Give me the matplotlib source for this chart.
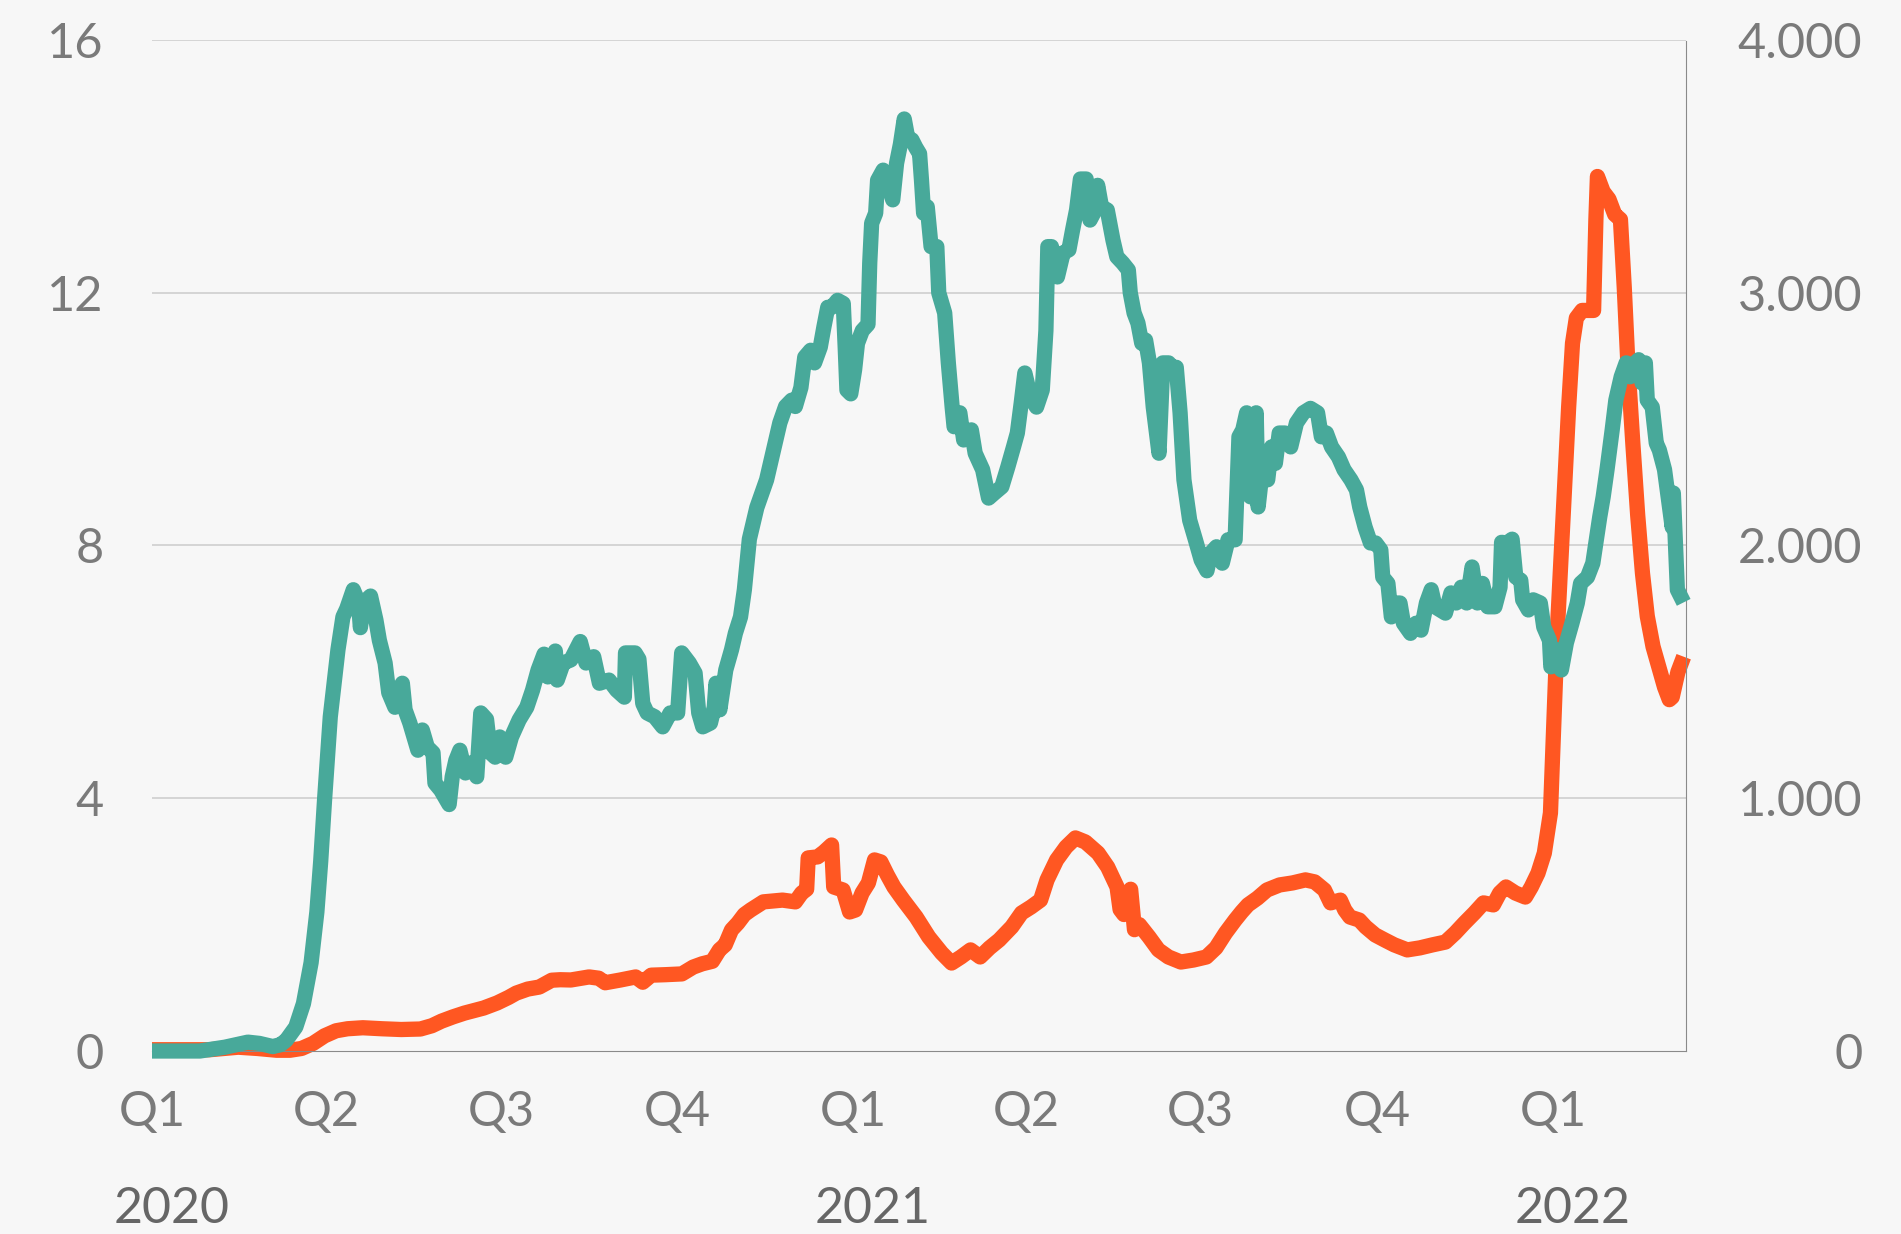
import matplotlib.pyplot as plt
from matplotlib.ticker import FuncFormatter

# días desde el 1 de enero de 2020 y valores
dias_verde = [0, 25, 38, 50, 56, 63, 67, 70, 75, 79, 83, 86, 88, 90, 93, 97, 99.6, 101.6, 105,
              107.7, 108.7, 110.5, 114, 116.8, 118.6, 121.6, 123.5, 126.7, 128.7, 130.6, 132,
              134.5, 138.7, 141, 143.6, 146.6, 147.6, 150.6, 155, 156.6, 158.5, 160.6, 163.5,
              166.5, 169.4, 171.5, 174.5, 176.5, 179, 181.4, 184.5, 187.5, 191.5, 195.5, 198.5,
              201.4, 204.5, 206.5, 210.4, 211.4, 214.5, 218.5, 223.4, 226.4, 230.4, 233.4,
              238.4, 242.4, 246.4, 247, 252, 254, 256, 258.3, 262.2, 266.4, 270.3, 274.2, 276.3,
              280.3, 283.3, 285.2, 287.3, 291.3, 293.3, 294.2, 296.2, 299.3, 302.3, 304.3, 307,
              309, 311.6, 315.5, 320.6, 324.6, 327.5, 330.5, 333.7, 335.6, 338.5, 340.5, 343.6,
              345.6, 348.6, 350.5, 352.5, 354.6, 357.6, 360.6, 361.6, 362.5, 364.5, 366.5, 368,
              370.5, 373.5, 374.4, 375.4, 377.5, 378.5, 381.4, 383.4, 386.4, 388.4, 390.4,
              392.4, 394.4, 396.4, 398.4, 400.4, 401.4, 402.5, 404.4, 406.4, 409.4, 410.4,
              413.5, 415.4, 417.4, 418.4, 421.4, 423.4, 427.4, 429.4, 433.3, 436.4, 439.4,
              443.3, 446.4, 449.4, 451.4, 453.4, 455.3, 458.3, 461.4, 464.4, 466.3, 467.3,
              469.2, 472.3, 475.3, 478.3, 480.2, 482.3, 484.3, 487.3, 489.3, 491.2, 493.3,
              495.3, 498.3, 501.3, 503.3, 506.4, 509.3, 510.3, 512.3, 514.3, 516.3, 518.3,
              520.3, 522.3, 525.3, 527.3, 530.3, 532.3, 534.3, 536.3, 538.3, 541.3, 544.3,
              547.3, 550.3, 552.3, 555.3, 558.3, 561.3, 565, 567, 569, 571, 573, 576, 577, 579,
              582, 584, 586, 588, 591, 594, 597, 600.6, 604.3, 608, 610, 612.6, 615.3, 618.9,
              621.8, 625.4, 628.3, 630, 632.8, 635.6, 638.3, 641, 642, 644.7, 646.5, 649.3, 651,
              652.8, 656.5, 659.4, 662, 664.8, 667.3, 669.3, 672, 674.7, 677.6, 680.3, 683,
              685.8, 688.6, 691.4, 694, 696.8, 700.5, 703.2, 704, 706.8, 709.5, 711.4, 714, 715,
              718, 720.5, 724.2, 726, 729, 729.7, 732.5, 735.2, 737.8, 740.7, 743.5, 745.2,
              748.8, 751.6, 753.6, 755.2, 757, 759, 761.7, 763.6, 766.4, 769, 771, 773.7,
              775.5, 777.3, 779, 780, 782.6, 784.7, 786.3, 789, 793, 793.6, 795.7, 799]
verde = [0.0, 0.0, 0.06, 0.14, 0.12, 0.07, 0.10, 0.17, 0.38, 0.75, 1.4, 2.2, 3.0, 3.97, 5.29,
         6.35, 6.87, 7.0, 7.3, 7.1, 6.7, 7.1, 7.2, 6.82, 6.5, 6.14, 5.67, 5.44, 5.71, 5.82,
         5.4, 5.19, 4.76, 5.08, 4.81, 4.72, 4.24, 4.13, 3.9, 4.34, 4.6, 4.76, 4.4, 4.56,
         4.34, 5.35, 5.25, 4.72, 4.65, 4.97, 4.65, 4.97, 5.24, 5.44, 5.71, 6.03, 6.28, 5.92,
         6.33, 5.87, 6.14, 6.19, 6.48, 6.14, 6.24, 5.82, 5.87, 5.71, 5.6, 6.3, 6.3, 6.2, 5.5,
         5.35, 5.29, 5.13, 5.35, 5.35, 6.3, 6.14, 5.98, 5.35, 5.13, 5.19, 5.44, 5.82, 5.4,
         6.03, 6.35, 6.61, 6.87, 7.3, 8.1, 8.6, 9.04, 9.56, 9.94, 10.2, 10.3, 10.2, 10.5,
         10.98, 11.09, 10.89, 11.14, 11.46, 11.77, 11.77, 11.88, 11.83, 11.14, 10.46, 10.4,
         10.78, 11.2, 11.4, 11.5, 12.47, 13.1, 13.26, 13.78, 13.94, 13.78, 13.47, 14.05,
         14.35, 14.75, 14.42, 14.42, 14.3, 14.2, 13.78, 13.26, 13.36, 12.73, 12.73, 12.0,
         11.68, 10.89, 10.19, 9.88, 10.1, 9.67, 9.83, 9.46, 9.2, 8.75, 8.83, 8.93, 9.24,
         9.56, 9.78, 10.25, 10.73, 10.35, 10.19, 10.46, 11.4, 12.73, 12.73, 12.25, 12.63,
         12.68, 12.99, 13.31, 13.8, 13.8, 13.15, 13.26, 13.7, 13.36, 13.31, 12.83, 12.57,
         12.47, 12.36, 12.0, 11.68, 11.52, 11.2, 11.25, 10.89, 10.19, 9.46, 10.89, 10.89,
         10.82, 10.82, 10.1, 9.04, 8.4, 8.09, 7.77, 7.6, 7.88, 7.98, 7.72, 8.09, 8.09, 9.72,
         9.83, 10.1, 8.77, 10.1, 8.61, 9.15, 9.04, 9.56, 9.3, 9.78, 9.78, 9.56, 9.94, 10.1,
         10.17, 10.1, 9.72, 9.78, 9.56, 9.4, 9.2, 9.04, 8.88, 8.61, 8.29, 8.04, 8.04, 7.93,
         7.5, 7.4, 6.87, 7.09, 7.09, 6.77, 6.61, 6.77, 6.66, 7.09, 7.3, 7.03, 6.98, 6.93,
         7.25, 7.09, 7.34, 7.09, 7.66, 7.09, 7.4, 7.03, 7.03, 7.34, 8.05, 8.04, 8.1, 7.5,
         7.45, 7.14, 6.98, 7.14, 7.09, 6.71, 6.5, 6.08, 6.35, 6.03, 6.46, 6.77, 7.09, 7.4,
         7.5, 7.72, 8.13, 8.45, 8.77, 9.2, 9.83, 10.3, 10.67, 10.89, 10.67, 10.89, 10.94,
         10.57, 10.89, 10.3, 10.19, 9.62, 9.51, 9.2, 8.29, 8.83, 7.3, 7.1]

dias_naranja = [0, 30, 45, 55, 65, 72, 78, 84, 90, 96, 102, 110, 120, 130, 140, 146, 151, 157,
                163, 173, 180, 186, 190, 196, 202, 208.5, 213, 218.5, 228, 233, 236.4, 240,
                244.4, 252.3, 256, 260.4, 268, 276.4, 282.3, 287, 292.3, 296, 299, 302.3,
                305.6, 309, 312.3, 318.9, 328.9, 335.6, 338.9, 341.5, 342.3, 347.2, 350.5,
                354.5, 355.6, 360.5, 363.9, 367, 370.4, 373.7, 376.9, 380.2, 383.6, 387, 391.9,
                398.6, 405.2, 411.9, 417.1, 422, 427, 432, 436.9, 441.9, 448.5, 453.6, 458.6,
                463.5, 466.9, 471.9, 476.8, 481.7, 486.9, 493.5, 498.5, 503.4, 505, 507, 510.5,
                512.5, 515, 520.1, 525, 530.2, 536.7, 543.3, 550, 555, 560, 565, 568.4, 571.7,
                576.7, 581.6, 588.2, 595, 601.7, 606.5, 611.6, 614.8, 619.9, 622.2, 624.9,
                629.8, 633.1, 638.1, 643.1, 648, 654.8, 661.4, 668, 674.7, 679.8, 684.6, 689.8,
                694.6, 699.7, 703, 706.3, 711.2, 716.4, 719.5, 723, 726.3, 729.5, 731, 733, 735,
                737, 739, 741, 743, 746, 752, 753.2, 754, 757, 760, 763, 766, 768, 770, 772.5,
                775, 777.5, 780, 783, 786, 789, 791.5, 793, 796, 799]
naranja = [5, 5, 15, 10, 3, 3, 10, 30, 60, 80, 88, 92, 88, 85, 87, 100, 118, 135, 150, 170,
           190, 212, 229, 245, 253, 280, 282, 281, 293, 288, 270, 275, 281, 293, 272, 300, 302,
           305, 332, 345, 355, 400, 420, 479, 506, 540, 558, 590, 597, 590, 625, 640, 764, 768,
           787, 815, 649, 637, 550, 558, 625, 665, 756, 748, 696, 649, 597, 530, 451, 388, 348,
           372, 400, 372, 408, 439, 491, 546, 570, 597, 677, 756, 807, 843, 827, 783, 728, 649,
           560, 540, 640, 480, 500, 451, 400, 372, 352, 360, 372, 408, 467, 518, 550, 578, 605,
           637, 657, 665, 677, 669, 637, 586, 597, 558, 530, 518, 491, 459, 439, 420, 400, 408,
           420, 431, 467, 506, 546, 586, 578, 625, 649, 625, 609, 649, 704, 783, 942, 1250,
           1650, 1950, 2250, 2550, 2800, 2900, 2930, 2930, 3290, 3460, 3400, 3370, 3310, 3290,
           3020, 2700, 2400, 2120, 1890, 1720, 1600, 1520, 1440, 1390, 1400, 1500, 1560]

trimestres = [0, 91, 182, 274, 366, 456, 547, 639, 731]
etiquetas_q = ['Q1', 'Q2', 'Q3', 'Q4', 'Q1', 'Q2', 'Q3', 'Q4', 'Q1']
anios = ['2020', '2021', '2022']
pos_anios = [0, 366, 731]

fondo = '#f7f7f7'
gris = '#7a7a7a'
verde_c = '#48a99a'
naranja_c = '#ff5722'

plt.rcParams['font.family'] = ['Lato', 'DejaVu Sans']

fig = plt.figure(figsize=(19.01, 12.34), dpi=100, facecolor=fondo)
ax = fig.add_axes([0.07996, 0.1483, 0.80694, 0.81929])
ax2 = ax.twinx()
# la serie verde va por encima de la naranja
ax.set_zorder(ax2.get_zorder() + 1)
ax.patch.set_visible(False)
ax2.patch.set_facecolor(fondo)

ax.plot(dias_verde, verde, color=verde_c, lw=11, solid_joinstyle='round',
        solid_capstyle='butt', clip_on=False)
ax2.plot(dias_naranja, naranja, color=naranja_c, lw=11, solid_joinstyle='round',
         solid_capstyle='butt', clip_on=False)

ax.set_xlim(0, 800.2)
ax.set_ylim(0, 16)
ax2.set_ylim(0, 4000)

ax.set_yticks([0, 4, 8, 12, 16])
ax2.set_yticks([0, 1000, 2000, 3000, 4000])
ax2.yaxis.set_major_formatter(FuncFormatter(lambda v, p: f'{int(v):,}'.replace(',', '.')))

ax.set_xticks(trimestres)
ax.set_xticklabels(etiquetas_q)

# rejilla horizontal (en el eje de atrás, por debajo de las líneas)
for v in [1000, 2000, 3000, 4000]:
    ax2.axhline(v, color='#cfcfcf', lw=1.2, zorder=0)

for s in ['top', 'left', 'right', 'bottom']:
    ax.spines[s].set_visible(False)
for s in ['top', 'left']:
    ax2.spines[s].set_visible(False)
ax2.spines['bottom'].set_color('#8a8a8a')
ax2.spines['bottom'].set_linestyle((0, (1, 1)))
ax2.spines['bottom'].set_linewidth(0.8)
ax2.spines['right'].set_color('#8a8a8a')
ax2.spines['right'].set_linestyle((0, (1, 1)))
ax2.spines['right'].set_linewidth(0.8)

ax.tick_params(axis='both', length=0, labelsize=35, labelcolor=gris)
ax.tick_params(axis='y', pad=35)
ax.tick_params(axis='x', pad=28)
ax2.tick_params(axis='y', length=0, labelsize=35, labelcolor=gris, pad=127)
for t in ax2.get_yticklabels():
    t.set_horizontalalignment('right')

for a, p in zip(anios, pos_anios):
    ax.text(p + 10, -0.156, a, transform=ax.get_xaxis_transform(), ha='center',
            va='center', fontsize=36, color='#666666')

fig.savefig('out.png', dpi=100, facecolor=fondo)
